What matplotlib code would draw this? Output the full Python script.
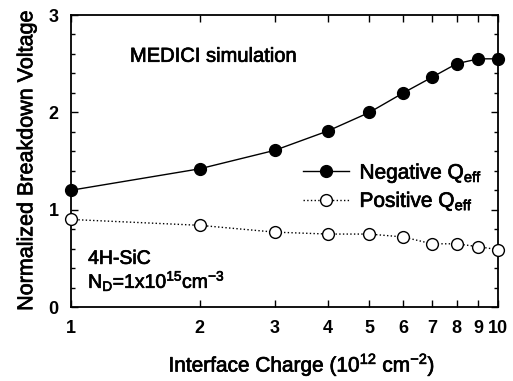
import matplotlib
matplotlib.use('Agg')
import matplotlib.pyplot as plt
import matplotlib.patheffects as pe
from matplotlib.ticker import FixedLocator, NullFormatter, MultipleLocator

plt.rcParams['font.family'] = ['Liberation Sans', 'DejaVu Sans']
plt.rcParams['mathtext.fontset'] = 'custom'
plt.rcParams['mathtext.rm'] = 'Liberation Sans'
plt.rcParams['mathtext.it'] = 'Liberation Sans:italic'
plt.rcParams['mathtext.bf'] = 'Liberation Sans:bold'

# data
charge = [1, 2, 3, 4, 5, 6, 7, 8, 9, 10]
negative_q = [1.20, 1.42, 1.61, 1.81, 2.00, 2.20, 2.36, 2.50, 2.55, 2.55]
positive_q = [0.90, 0.84, 0.77, 0.75, 0.75, 0.72, 0.65, 0.65, 0.62, 0.59]
x_ticks = [1, 2, 3, 4, 5, 6, 7, 8, 9, 10]
y_ticks = [0, 1, 2, 3]

# slight stroke to mimic the heavier scanned text
thick = [pe.withStroke(linewidth=0.5, foreground='black')]

fig = plt.figure(figsize=(5.13, 3.81), dpi=100)
ax = fig.add_axes([0.1384, 0.194, 0.8324, 0.7666])

ax.plot(charge, negative_q, '-', color='black', lw=1.0, marker='o',
        ms=8.5, mfc='black', mec='black', label=r'Negative Q$_{\rm eff}$',
        clip_on=False, zorder=3)
ax.plot(charge, positive_q, ':', color='black', lw=1.0, marker='o',
        ms=8.5, mfc='white', mec='black', mew=1.0, label=r'Positive Q$_{\rm eff}$',
        clip_on=False, zorder=3)

ax.set_xscale('log')
ax.set_xlim(1, 10)
ax.set_ylim(0, 3)
ax.xaxis.set_major_locator(FixedLocator(x_ticks))
ax.xaxis.set_minor_locator(FixedLocator([]))
ax.set_xticklabels([str(t) for t in x_ticks])
ax.xaxis.set_minor_formatter(NullFormatter())
ax.yaxis.set_major_locator(FixedLocator(y_ticks))
ax.yaxis.set_minor_locator(MultipleLocator(0.2))

ax.tick_params(which='both', direction='in', top=True, right=True, width=1.0)
ax.tick_params(which='major', length=5, labelsize=13)
ax.tick_params(axis='x', which='major', pad=9)
ax.tick_params(axis='y', which='major', pad=9)
ax.tick_params(which='minor', length=3)
for lab in ax.get_xticklabels() + ax.get_yticklabels():
    lab.set_fontweight('bold')
for sp in ax.spines.values():
    sp.set_linewidth(1.3)

xl = ax.set_xlabel(r'Interface Charge (10$^{12}$ cm$^{-2}$)', fontsize=15, labelpad=11)
xl.set_x(0.541)
yl = ax.set_ylabel('Normalized Breakdown Voltage', fontsize=15.5, labelpad=8)
xl.set_path_effects(thick)
yl.set_path_effects(thick)

t1 = ax.text(0.138, 0.84, 'MEDICI simulation', transform=ax.transAxes, fontsize=14.5)
t2 = ax.text(0.04, 0.148, '4H-SiC', transform=ax.transAxes, fontsize=14)
t3 = ax.text(0.04, 0.066, r'N$_{\rm D}$=1x10$^{15}$cm$^{-3}$', transform=ax.transAxes, fontsize=14)
for t in (t1, t2, t3):
    t.set_path_effects(thick)

leg = ax.legend(loc='center left', bbox_to_anchor=(0.5, 0.41), frameon=False,
                fontsize=15, handlelength=2.2, handletextpad=0.5, labelspacing=0.25)
for t in leg.get_texts():
    t.set_path_effects(thick)

fig.savefig('out.png', dpi=100)
